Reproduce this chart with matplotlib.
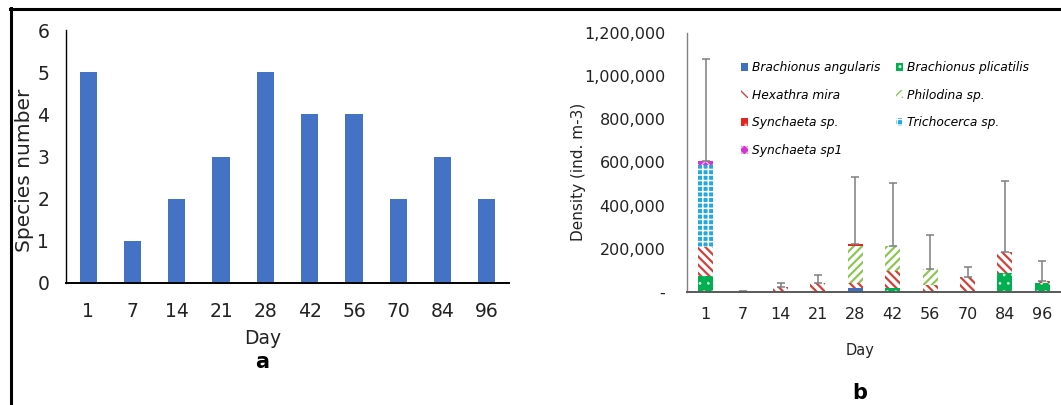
import matplotlib
matplotlib.use("Agg")
import matplotlib.pyplot as plt
from matplotlib.lines import Line2D
from matplotlib.ticker import FuncFormatter

# ---- data ----
days = ["1", "7", "14", "21", "28", "42", "56", "70", "84", "96"]
species_number = [5, 1, 2, 3, 5, 4, 4, 2, 3, 2]

b_angularis = [0, 0, 0, 0, 20000, 0, 0, 0, 0, 0]
b_plicatilis = [75000, 0, 0, 0, 0, 18000, 0, 0, 90000, 40000]
hexathra_mira = [133000, 2000, 21000, 43000, 21000, 78000, 31000, 71000, 97000, 9000]
philodina = [0, 0, 0, 0, 173000, 115000, 77000, 0, 0, 0]
synchaeta = [0, 0, 0, 0, 9000, 0, 0, 0, 0, 0]
trichocerca = [379000, 0, 0, 0, 0, 0, 0, 0, 0, 0]
synchaeta_sp1 = [21000, 0, 0, 0, 0, 0, 0, 0, 0, 0]
density_sd = [471000, 1000, 22000, 34000, 308000, 292000, 158000, 43000, 326000, 96000]

density_ticks = [0, 200000, 400000, 600000, 800000, 1000000, 1200000]

plt.rcParams["font.family"] = ["DejaVu Sans"]

fig = plt.figure(figsize=(10.61, 4.05), dpi=100)

# outer frame lines (top and left)
fig.add_artist(Line2D([9.5 / 1061, 1.0], [1 - 9 / 405] * 2, transform=fig.transFigure,
                      color="black", lw=2.2))
fig.add_artist(Line2D([10.5 / 1061] * 2, [0, 1 - 8 / 405], transform=fig.transFigure,
                      color="black", lw=2.2))

# ---- panel a ----
axa = fig.add_axes([66 / 1061, 1 - 283 / 405, (509 - 66) / 1061, (283 - 30) / 405])
xa = range(len(days))
axa.bar(xa, species_number, width=0.39, color="#4472C4")
axa.set_xlim(-0.5, len(days) - 0.5)
axa.set_ylim(0, 6)
axa.set_xticks(list(xa))
axa.set_xticklabels(days)
axa.set_yticks(range(0, 7))
axa.tick_params(axis="both", length=0, labelsize=13.5, colors="#222222")
axa.tick_params(axis="x", pad=14)
axa.tick_params(axis="y", pad=12)
for s in ("top", "right"):
    axa.spines[s].set_visible(False)
axa.spines["left"].set_linewidth(1.0)
axa.spines["bottom"].set_linewidth(1.4)
fig.text(25 / 1061, 1 - 170 / 405, "Species number", rotation=90, ha="center", va="center",
         fontsize=14.5, color="#222222")
fig.text(263 / 1061, 1 - 338 / 405, "Day", ha="center", va="center", fontsize=13.5,
         color="#222222")
fig.text(262 / 1061, 1 - 362 / 405, "a", ha="center", va="center", fontsize=15,
         fontweight="bold")

# ---- panel b ----
axb = fig.add_axes([687 / 1061, 1 - 292 / 405, (1061 - 687) / 1061, (292 - 33) / 405])
xb = list(range(len(days)))
w = 0.4
# (label, values, bar style, hatch line width)
layers = [
    ("Brachionus angularis", b_angularis, dict(color="#3F6FC0"), 1.0),
    ("Brachionus plicatilis", b_plicatilis,
     dict(facecolor="#00B050", edgecolor="#CFF5DD", hatch="..", lw=0), 0.8),
    ("Hexathra mira", hexathra_mira,
     dict(facecolor="white", edgecolor="#D2403A", hatch="\\" * 4, lw=0), 1.6),
    ("Philodina sp.", philodina,
     dict(facecolor="white", edgecolor="#8CC654", hatch="/" * 4, lw=0), 1.6),
    ("Synchaeta sp.", synchaeta,
     dict(facecolor="#E8231F", edgecolor="#F5A3A0", hatch="..", lw=0), 0.8),
    ("Trichocerca sp.", trichocerca,
     dict(facecolor="#22A9E2", edgecolor="white", hatch="+++", lw=0), 1.1),
    ("Synchaeta sp1", synchaeta_sp1,
     dict(facecolor="#D633D6", edgecolor="#F7C6F7", hatch="xxx", lw=0), 0.8),
]
bottom = [0] * len(days)
handles = {}
for name, vals, style, hlw in layers:
    with plt.rc_context({"hatch.linewidth": hlw}):
        bars = axb.bar(xb, vals, width=w, bottom=bottom, **style)
    handles[name] = bars
    bottom = [b + v for b, v in zip(bottom, vals)]

axb.errorbar(xb, bottom, yerr=[[0] * len(days), density_sd], fmt="none",
             ecolor="#7F7F7F", elinewidth=1.1, capsize=2.6, capthick=1.1)

axb.set_xlim(-0.5, len(days) - 0.5)
axb.set_ylim(0, 1200000)
axb.set_yticks(density_ticks)
axb.yaxis.set_major_formatter(FuncFormatter(lambda v, p: "-" if v == 0 else f"{int(v):,}"))
axb.set_xticks(xb)
axb.set_xticklabels(days)
axb.tick_params(axis="both", length=0, labelsize=11.5, colors="#222222")
axb.tick_params(axis="x", pad=11)
axb.tick_params(axis="y", pad=15.5)
for s in ("top", "right"):
    axb.spines[s].set_visible(False)
axb.spines["left"].set_color("#808080")
axb.spines["bottom"].set_color("#595959")
axb.spines["left"].set_linewidth(1.0)
axb.spines["bottom"].set_linewidth(1.4)
fig.text(578 / 1061, 1 - 172 / 405, "Density (ind. m-3)", rotation=90, ha="center",
         va="center", fontsize=11, color="#222222")
fig.text(860 / 1061, 1 - 351 / 405, "Day", ha="center", va="center", fontsize=10.5,
         color="#222222")
fig.text(860 / 1061, 1 - 393 / 405, "b", ha="center", va="center", fontsize=15,
         fontweight="bold")

order = ["Brachionus angularis", "Hexathra mira", "Synchaeta sp.", "Synchaeta sp1",
         "Brachionus plicatilis", "Philodina sp.", "Trichocerca sp."]
axb.legend([handles[n] for n in order], order, ncol=2, frameon=False,
           loc="upper left", bbox_to_anchor=((741 - 687) / 374, 1 - (61 - 33) / 259),
           prop=dict(style="italic", size=8.8), handlelength=0.6, handleheight=0.6,
           handletextpad=0.3, columnspacing=1.25, labelspacing=1.2, borderpad=0,
           borderaxespad=0)

fig.savefig("out.png", dpi=100)
